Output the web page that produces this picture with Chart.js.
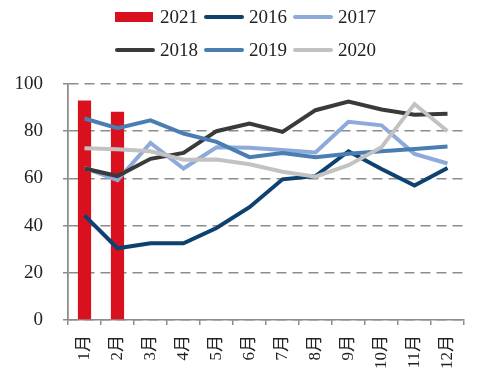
<!DOCTYPE html>
<html>
<head>
<meta charset="utf-8">
<script src="https://cdn.jsdelivr.net/npm/chart.js@4"></script>
<style>
body { margin: 0; background: #fff; }
#wrap { position: relative; width: 486px; height: 388px; }
#legend { position: absolute; left: 115px; top: 0; font-family: 'Liberation Serif', serif; font-size: 19px; color: #222; }
.row { position: absolute; left: 0; display: flex; align-items: center; white-space: nowrap; height: 22px; }
.sw { width: 40px; margin-right: 5px; }
.txt { margin-right: 6px; }
</style>
</head>
<body>
<div id="wrap">
  <canvas id="lineChart" width="486" height="388"></canvas>
  <div id="legend"></div>
</div>
<script>
const months = ['1月', '2月', '3月', '4月', '5月', '6月', '7月', '8月', '9月', '10月', '11月', '12月'];
const v2021 = [93, 88.2];
const v2016 = [44.3, 30.4, 32.5, 32.5, 39, 47.8, 59.6, 61, 71.5, 64, 57, 64.4];
const v2017 = [64.5, 59.3, 75, 64.2, 73.2, 73, 72, 71, 84, 82.5, 70.4, 66.3];
const v2018 = [64.2, 61, 68.3, 70.8, 80, 83.2, 79.7, 88.9, 92.6, 89.2, 87, 87.4];
const v2019 = [85.4, 81.3, 84.6, 79, 75.5, 69, 70.8, 69, 70.4, 71.5, 72.5, 73.5];
const v2020 = [72.8, 72.4, 71.5, 67.9, 68, 66, 62.8, 60.7, 65.6, 73.2, 91.5, 80];
const yTicks = [0, 20, 40, 60, 80, 100];

const serif = "'Liberation Serif', 'Noto Sans CJK SC', serif";
const axisGray = '#8c8c8c';

function lineSet(label, data, color, order) {
    return {
        type: 'line',
        label: label,
        data: data,
        borderColor: color,
        backgroundColor: color,
        borderWidth: 4,
        pointRadius: 0,
        tension: 0,
        fill: false,
        order: order
    };
}

const datasets = [
    {
        type: 'bar',
        label: '2021',
        data: v2021,
        backgroundColor: '#d9111e',
        barPercentage: 0.4,
        categoryPercentage: 1,
        order: 10
    },
    lineSet('2016', v2016, '#0e416f', 5),
    lineSet('2017', v2017, '#8eaadb', 4),
    lineSet('2018', v2018, '#3a3a3a', 3),
    lineSet('2019', v2019, '#4a7eb3', 2),
    lineSet('2020', v2020, '#c2c2c2', 1)
];

// legend in two rows, like the original
const legendRows = [['2021', '2016', '2017'], ['2018', '2019', '2020']];
const legendBox = document.getElementById('legend');
legendRows.forEach((row, r) => {
    const div = document.createElement('div');
    div.className = 'row';
    div.style.top = (6 + r * 33) + 'px';
    row.forEach(name => {
        const ds = datasets.find(d => d.label === name);
        const sw = document.createElement('span');
        sw.className = 'sw';
        if (ds.type === 'bar') {
            sw.style.height = '10px';
            sw.style.width = '38px';
            sw.style.marginRight = '7px';
            sw.style.background = ds.backgroundColor;
        } else {
            sw.style.height = '4px';
            sw.style.borderRadius = '2px';
            sw.style.background = ds.borderColor;
        }
        const txt = document.createElement('span');
        txt.className = 'txt';
        txt.textContent = name;
        div.appendChild(sw);
        div.appendChild(txt);
    });
    legendBox.appendChild(div);
});

const chart = new Chart(document.getElementById('lineChart'), {
    type: 'bar',
    data: {
        labels: months,
        datasets: datasets
    },
    options: {
        responsive: false,
        animation: false,
        layout: {
            padding: { left: 13, right: 22, top: 84, bottom: 9 }
        },
        scales: {
            x: {
                offset: true,
                grid: {
                    offset: true,
                    drawOnChartArea: true,
                    tickLength: 5,
                    // only the first line, so it stands in for the y axis line
                    color: (c) => c.index === 0 ? axisGray : 'rgba(0,0,0,0)',
                    tickColor: axisGray,
                    lineWidth: 1.5
                },
                border: { color: axisGray, width: 1.5 },
                ticks: {
                    minRotation: 90,
                    maxRotation: 90,
                    padding: 10,
                    color: '#222',
                    font: { family: serif, size: 17 }
                }
            },
            y: {
                min: 0,
                max: 100,
                afterBuildTicks: (scale) => {
                    scale.ticks = yTicks.map(v => ({ value: v }));
                },
                afterFit: (scale) => {
                    scale.width = 55;
                },
                grid: {
                    tickLength: 5,
                    color: axisGray,
                    lineWidth: 1.5
                },
                border: { color: axisGray, width: 1.5, dash: [10, 6] },
                ticks: {
                    padding: 20,
                    color: '#222',
                    font: { family: serif, size: 19 }
                }
            }
        },
        plugins: {
            legend: { display: false },
            tooltip: { enabled: false }
        }
    }
});
</script>
</body>
</html>
